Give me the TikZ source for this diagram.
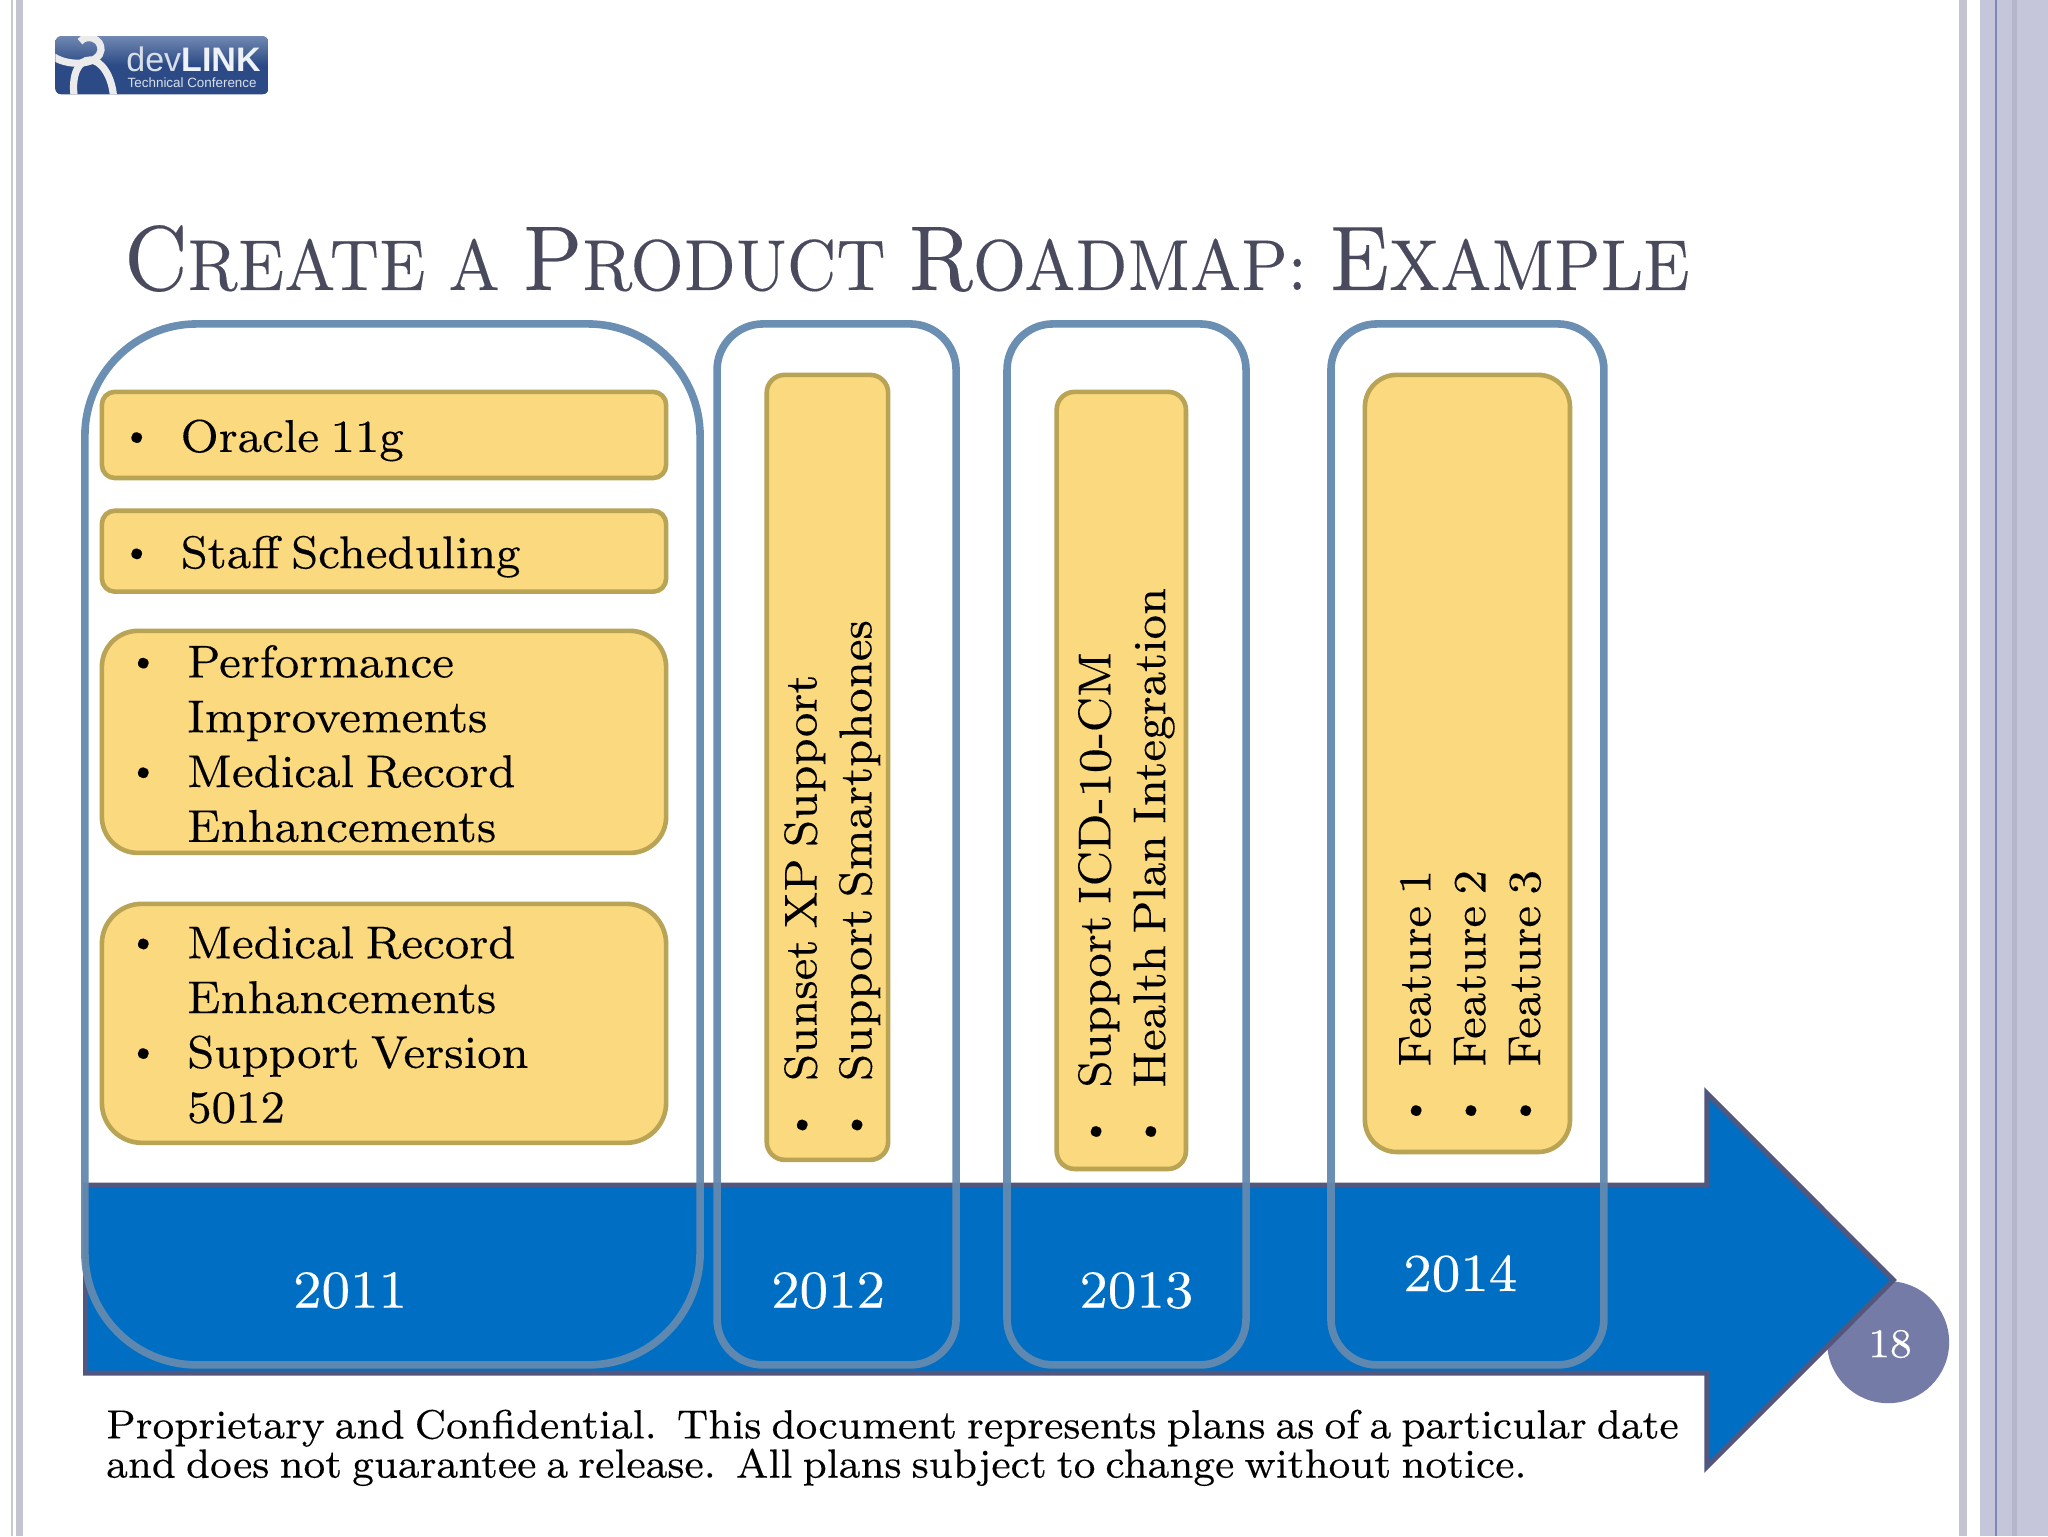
\documentclass[tikz,border=0pt]{standalone}
\usepackage{fontspec}
\usepackage{array}
\newfontfamily\logofont{Liberation Sans}
\newfontfamily\slidefont[WordSpace=0.7,FakeBold=0.2]{lmroman8-regular.otf}
\definecolor{sidegray}{HTML}{C4C4D0}
\definecolor{sidelav}{HTML}{C6C6DA}
\definecolor{sideband}{HTML}{B5B5CC}
\definecolor{sideline}{HTML}{7F85B5}
\definecolor{arrowblue}{HTML}{006FC3}
\definecolor{arrowedge}{HTML}{51577F}
\definecolor{pagecircle}{HTML}{757BA7}
\definecolor{yearbox}{HTML}{648AAE}
\definecolor{itemfill}{HTML}{FBD97E}
\definecolor{itemedge}{HTML}{B9A355}
\definecolor{titlecol}{HTML}{4A4A5E}
\definecolor{logodark}{HTML}{2C4B86}
\definecolor{logolight}{HTML}{7088B2}
\newcommand{\itemfont}{\slidefont\fontsize{23}{27.4}\selectfont}
\newcommand{\yearfont}{\slidefont\fontsize{26.8}{30}\selectfont}
\newcommand{\tbig}{\fontsize{46}{48}\selectfont}
\newcommand{\tsmall}{\fontsize{36}{48}\selectfont}
\newcommand{\tgap}{\hspace{4pt}}
\newcommand{\itembullet}{\raisebox{3.1pt}{\fontsize{18}{18}\selectfont\textbullet}}
\tikzset{
  x=0.65306pt, y=-0.65306pt,
  yearframe/.style={draw=yearbox, line width=3.8pt, opacity=0.95},
  itembox/.style={draw=itemedge, fill=itemfill, line width=2.3pt},
  itemtext/.style={inner sep=0pt, font=\itemfont, text=black},
  yeartext/.style={inner sep=0pt, font=\yearfont, text=white},
  ring/.style={draw=white!92!black, line width=3.6pt}
}
\begin{document}
\begin{tikzpicture}
\useasboundingbox (0,0) rectangle (1568,1176);
\fill[white] (0,0) rectangle (1568,1176);
% side bars
\fill[sidelav] (8.4,0) rectangle (10.2,1176);
\fill[sidegray] (12.3,0) rectangle (17.8,1176);
\fill[sidegray] (1499.5,0) rectangle (1505.9,1176);
\fill[sidelav] (1516,0) rectangle (1568,1176);
\fill[sideband] (1540.6,0) rectangle (1544,1176);
\fill[sideline] (1527.6,0) rectangle (1529.2,1176);
% logo
\begin{scope}[xscale=0.25523, yscale=0.25523]
  \begin{scope}
    \path[clip, rounded corners=3pt] (166,108) rectangle (805,283);
    \shade[top color=logolight, bottom color=logodark, middle color=logodark] (166,108) rectangle (805,283);
    \fill[logodark] (166,195) rectangle (805,283);
    \draw[ring] (160,170) .. controls (215,205) and (300,190) .. (303,150) .. controls (305,115) and (260,100) .. (240,125);
    \draw[ring] (222,285) .. controls (215,225) and (235,180) .. (270,180) .. controls (305,180) and (335,230) .. (340,285);
  \end{scope}
  \node[anchor=west, inner sep=0pt, text=white!82!logodark, font=\logofont\fontsize{17}{17}\selectfont] (logodev) at (378,178) {dev\textbf{\textcolor{white!92!logodark}{LINK}}};
  \node[anchor=west, inner sep=0pt, text=white!82!logodark, font=\logofont\fontsize{6.7}{7}\selectfont] (logotech) at (382,249) {Technical Conference};
\end{scope}
% title
\node[anchor=base west, inner sep=0pt, text=titlecol, font=\slidefont, xscale=0.893] (title) at (95,222) {\tbig C\tsmall REATE \tgap A \tgap\tbig P\tsmall RODUCT \tgap\tbig R\tsmall OADMAP: \tgap\tbig E\tsmall XAMPLE};
% page circle and arrow
\fill[pagecircle] (1445.6,1027.6) circle (46.7);
\draw[fill=arrowblue, draw=arrowedge, line width=2.5pt, miter limit=10]
  (65.5,907.4) -- (1306.8,907.4) -- (1306.8,837) -- (1449.6,980) -- (1306.8,1123) -- (1306.8,1051.3) -- (65.5,1051.3) -- cycle;
\node[inner sep=0pt, text=white, font=\slidefont\fontsize{20.5}{22}\selectfont] (pagenum) at (1447,1029) {18};
% years
\node[yeartext] (y2011) at (268,988) {2011};
\node[yeartext] (y2012) at (634,988) {2012};
\node[yeartext] (y2013) at (870,988) {2013};
\node[yeartext] (y2014) at (1118,975) {2014};
% year frames
\draw[yearframe, rounded corners=56pt] (65,248) rectangle (536,1045);
\draw[yearframe, rounded corners=23pt] (549,248) rectangle (732,1045);
\draw[yearframe, rounded corners=23pt] (771,248) rectangle (954,1045);
\draw[yearframe, rounded corners=23pt] (1019,248) rectangle (1228,1045);
% yellow boxes
\draw[itembox, rounded corners=6.5pt] (78,300) rectangle (510,366);
\draw[itembox, rounded corners=6.5pt] (78,391) rectangle (510,453);
\draw[itembox, rounded corners=18pt] (78,483) rectangle (510,653);
\draw[itembox, rounded corners=20pt] (78,692) rectangle (510,875);
\draw[itembox, rounded corners=9pt] (587,287) rectangle (680,888);
\draw[itembox, rounded corners=9pt] (809,300) rectangle (908,895);
\draw[itembox, rounded corners=16pt] (1045,287) rectangle (1202,882);
% horizontal item text
\node[itemtext, anchor=base west] (t1) at (93,346) {\begin{tabular}[b]{@{}p{29.4pt}@{}l@{}}\itembullet & Oracle 11g\end{tabular}};
\node[itemtext, anchor=base west] (t2) at (93,435) {\begin{tabular}[b]{@{}p{29.4pt}@{}l@{}}\itembullet & Staff Scheduling\end{tabular}};
\node[itemtext, anchor=north west] (t3) at (98,489) {\begin{tabular}[t]{@{}p{29.4pt}@{}l@{}}\itembullet & Performance\\ & Improvements\\ \itembullet & Medical Record\\ & Enhancements\end{tabular}};
\node[itemtext, anchor=north west] (t4) at (98,704) {\begin{tabular}[t]{@{}p{29.4pt}@{}l@{}}\itembullet & Medical Record\\ & Enhancements\\ \itembullet & Support Version\\ & 5012\end{tabular}};
% rotated item text
\node[itemtext, rotate=90, anchor=south west] (t5) at (680,873) {\begin{tabular}[b]{@{}p{29.4pt}@{}l@{}}\itembullet & Sunset XP Support\\ \itembullet & Support Smartphones\end{tabular}};
\node[itemtext, rotate=90, anchor=south west] (t6) at (905,878) {\begin{tabular}[b]{@{}p{29.4pt}@{}l@{}}\itembullet & Support ICD-10-CM\\ \itembullet & Health Plan Integration\end{tabular}};
\node[itemtext, rotate=90, anchor=south west] (t7) at (1192,862) {\begin{tabular}[b]{@{}p{29.4pt}@{}l@{}}\itembullet & Feature 1\\ \itembullet & Feature 2\\ \itembullet & Feature 3\end{tabular}};
% footer
\node[anchor=north west, inner sep=0pt, align=left, font=\slidefont\fontsize{20.4}{19.6}\selectfont] (footer) at (81,1079) {Proprietary and Confidential.\ \ This document represents plans as of a particular date\\and does not guarantee a release.\ \ All plans subject to change without notice.};
\end{tikzpicture}
\end{document}
